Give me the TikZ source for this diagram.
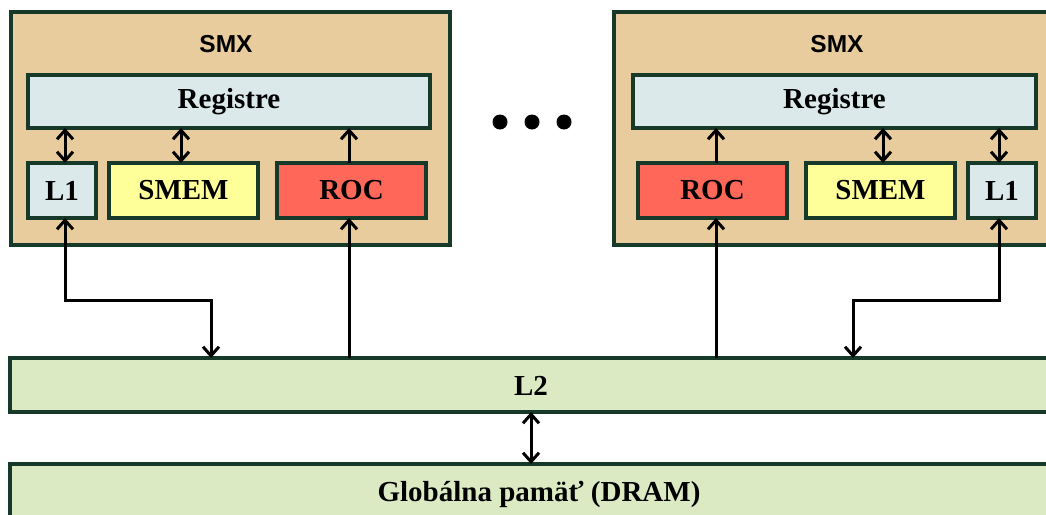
\documentclass[tikz,border=0pt]{standalone}
\usepackage{fontspec}
\setmainfont{Liberation Serif}
\setsansfont{Liberation Sans}
\usetikzlibrary{arrows.meta,calc}

\definecolor{edgegreen}{HTML}{17392A}
\definecolor{smxfill}{HTML}{E8CC9E}
\definecolor{regfill}{HTML}{DCE9EB}
\definecolor{smemfill}{HTML}{FFFF99}
\definecolor{rocfill}{HTML}{FF6858}
\definecolor{memfill}{HTML}{DCEAC3}

\tikzset{
  blk/.style={draw=edgegreen, line width=3.4pt, inner sep=0pt, outer sep=0pt,
    font=\fontsize{29}{31}\selectfont\bfseries},
  smxbox/.style={blk, fill=smxfill},
  regbox/.style={blk, fill=regfill},
  smembox/.style={blk, fill=smemfill},
  rocbox/.style={blk, fill=rocfill},
  membox/.style={blk, fill=memfill},
  smxlabel/.style={font=\sffamily\bfseries\fontsize{24.5}{26}\selectfont, inner sep=0pt},
  link/.style={line width=3pt, black, arrows={-}},
  tip/.tip={Straight Barb[length=9pt, width=16pt, line width=3pt]},
  dot/.style={fill=black, draw=none},
}

% box from its left/top/right/bottom edges, in pixel units
\newcommand{\blkat}[7]{%
  \node[#1, minimum width={(#5)-(#3)}, minimum height={(#6)-(#4)}]
    (#2) at ({((#3)+(#5))/2},{((#4)+(#6))/2}) {#7};}

\begin{document}
\begin{tikzpicture}[x=1pt, y=-1pt]
  \useasboundingbox (0,0) rectangle (1046,514);
  \clip (0,0) rectangle (1046,514);

  % ---- left SMX ----
  \blkat{smxbox}{smxA}{11}{12}{450}{245}{}
  \node[smxlabel] (smxAlbl) at (226,44) {SMX};
  \blkat{regbox}{regA}{28}{75}{430}{128}{Registre}
  \blkat{regbox}{loneA}{28}{163}{96}{218}{L1}
  \blkat{smembox}{smemA}{109}{163}{258}{218}{SMEM}
  \blkat{rocbox}{rocA}{277}{163}{426}{218}{ROC}

  % ---- right SMX ----
  \blkat{smxbox}{smxB}{614}{12}{1053}{245}{}
  \node[smxlabel] (smxBlbl) at (837,44) {SMX};
  \blkat{regbox}{regB}{633}{75}{1036}{128}{Registre}
  \blkat{rocbox}{rocB}{638}{163}{787}{218}{ROC}
  \blkat{smembox}{smemB}{806}{163}{955}{218}{SMEM}
  \blkat{regbox}{loneB}{968}{163}{1036}{218}{L1}

  % ---- shared memory levels ----
  \blkat{membox}{ltwo}{10}{358}{1060}{412}{}
  \node[font=\fontsize{29}{31}\selectfont\bfseries, inner sep=0pt] (ltwolbl) at (531,386) {L2};
  \blkat{membox}{dram}{10}{464}{1060}{540}{}
  \node[font=\fontsize{29}{31}\selectfont\bfseries, inner sep=0pt] (dramlbl) at (539,494) {Globálna pamäť (DRAM)};

  % ---- ellipsis between the SMX blocks ----
  \fill[dot] (500,122) circle (7.5);
  \fill[dot] (532,122) circle (7.5);
  \fill[dot] (564,122) circle (7.5);

  % ---- connectors inside the left SMX ----
  \coordinate (aA) at (65,0);
  \coordinate (bA) at (181,0);
  \coordinate (cA) at (349,0);
  \draw[link, tip-tip] (aA |- regA.south) -- (aA |- loneA.north);
  \draw[link, tip-tip] (bA |- regA.south) -- (bA |- smemA.north);
  \draw[link, -tip] (cA |- rocA.north) -- (cA |- regA.south);

  % ---- connectors inside the right SMX ----
  \coordinate (aB) at (999,0);
  \coordinate (bB) at (883,0);
  \coordinate (cB) at (716,0);
  \draw[link, tip-tip] (aB |- regB.south) -- (aB |- loneB.north);
  \draw[link, tip-tip] (bB |- regB.south) -- (bB |- smemB.north);
  \draw[link, -tip] (cB |- rocB.north) -- (cB |- regB.south);

  % ---- SMX to L2 ----
  \coordinate (turnA) at (211,300);
  \coordinate (turnB) at (853,300);
  \draw[link, tip-tip] (aA |- loneA.south) |- (turnA) -- (turnA |- ltwo.north);
  \draw[link, -tip] (cA |- ltwo.north) -- (cA |- rocA.south);
  \draw[link, tip-tip] (aB |- loneB.south) |- (turnB) -- (turnB |- ltwo.north);
  \draw[link, -tip] (cB |- ltwo.north) -- (cB |- rocB.south);

  % ---- L2 to global memory ----
  \coordinate (dA) at (531,0);
  \draw[link, tip-tip] (dA |- ltwo.south) -- (dA |- dram.north);
\end{tikzpicture}
\end{document}
